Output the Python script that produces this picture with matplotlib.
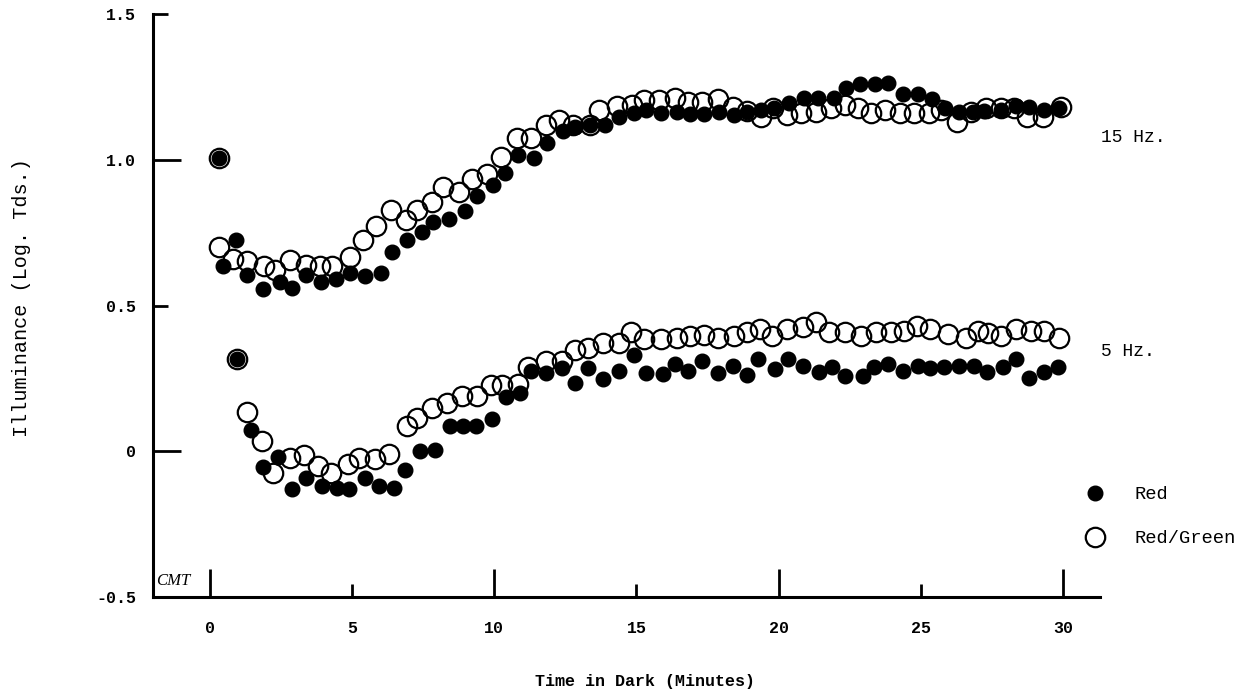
import matplotlib
matplotlib.use("Agg")
import matplotlib.pyplot as plt
from matplotlib.ticker import FixedLocator, FixedFormatter

# ---------------- data ----------------
# 15 Hz, Red (filled)
t15_red = [0.32, 0.46, 0.92, 1.3, 1.87, 2.46, 2.89, 3.38, 3.9, 4.44, 4.93, 5.46, 6.0, 6.4,
           6.94, 7.46, 7.85, 8.42, 8.98, 9.4, 9.96, 10.39, 10.85, 11.4, 11.87, 12.43, 12.85,
           13.38, 13.9, 14.37, 14.9, 15.35, 15.88, 16.44, 16.87, 17.39, 17.92, 18.42, 18.9,
           19.37, 19.82, 20.35, 20.88, 21.37, 21.94, 22.36, 22.85, 23.38, 23.84, 24.37, 24.9,
           25.39, 25.85, 26.34, 26.83, 27.22, 27.82, 28.35, 28.8, 29.33, 29.86]
v15_red = [1.007, 0.634, 0.723, 0.606, 0.555, 0.58, 0.56, 0.603, 0.582, 0.592, 0.61, 0.60, 0.613, 0.683,
           0.723, 0.752, 0.786, 0.798, 0.825, 0.877, 0.914, 0.955, 1.017, 1.007, 1.058, 1.099, 1.113,
           1.12, 1.12, 1.147, 1.161, 1.171, 1.161, 1.164, 1.158, 1.158, 1.164, 1.152, 1.164,
           1.171, 1.178, 1.195, 1.212, 1.212, 1.212, 1.247, 1.26, 1.26, 1.264, 1.226, 1.226,
           1.209, 1.178, 1.164, 1.164, 1.168, 1.171, 1.185, 1.18, 1.171, 1.178]

# 15 Hz, Red/Green (open)
t15_rg = [0.32, 0.32, 0.81, 1.3, 1.9, 2.29, 2.82, 3.38, 3.87, 4.3, 4.93, 5.39, 5.85, 6.37, 6.9,
          7.29, 7.82, 8.2, 8.77, 9.22, 9.75, 10.25, 10.8, 11.3, 11.83, 12.29, 12.78, 13.35, 13.7,
          14.3, 14.86, 15.28, 15.8, 16.34, 16.8, 17.32, 17.87, 18.4, 18.87, 19.37, 19.79, 20.28,
          20.77, 21.3, 21.83, 22.32, 22.78, 23.24, 23.73, 24.26, 24.75, 25.28, 25.7, 26.27,
          26.76, 27.29, 27.82, 28.27, 28.73, 29.3, 29.93]
v15_rg = [1.007, 0.702, 0.66, 0.654, 0.634, 0.623, 0.657, 0.64, 0.637, 0.637, 0.668, 0.726, 0.774, 0.829, 0.795,
          0.829, 0.855, 0.908, 0.89, 0.935, 0.952, 1.01, 1.075, 1.075, 1.12, 1.137, 1.12, 1.12, 1.171,
          1.185, 1.188, 1.205, 1.205, 1.212, 1.199, 1.199, 1.209, 1.18, 1.168, 1.147, 1.178, 1.154,
          1.161, 1.164, 1.178, 1.188, 1.178, 1.161, 1.171, 1.161, 1.161, 1.161, 1.171, 1.13,
          1.164, 1.178, 1.178, 1.178, 1.147, 1.147, 1.18]

# 5 Hz, Red (filled)
t5_red = [0.95, 1.44, 1.87, 2.39, 2.89, 3.38, 3.94, 4.47, 4.9, 5.46, 5.95, 6.48, 6.87, 7.4, 7.92,
          8.45, 8.9, 9.37, 9.93, 10.42, 10.92, 11.3, 11.83, 12.39, 12.85, 13.3, 13.84, 14.37, 14.9,
          15.32, 15.95, 16.37, 16.8, 17.32, 17.85, 18.38, 18.9, 19.26, 19.86, 20.32, 20.85, 21.41,
          21.87, 22.32, 22.96, 23.35, 23.84, 24.37, 24.9, 25.32, 25.81, 26.34, 26.87, 27.32,
          27.89, 28.35, 28.8, 29.33, 29.82]
v5_red = [0.318, 0.072, -0.055, -0.021, -0.13, -0.092, -0.12, -0.127, -0.13, -0.092, -0.12, -0.127, -0.065, 0.0, 0.005,
          0.086, 0.086, 0.086, 0.11, 0.185, 0.199, 0.274, 0.267, 0.284, 0.233, 0.284, 0.247, 0.274, 0.329,
          0.27, 0.264, 0.298, 0.277, 0.308, 0.267, 0.294, 0.26, 0.315, 0.281, 0.318, 0.291, 0.271,
          0.288, 0.257, 0.257, 0.288, 0.298, 0.274, 0.291, 0.284, 0.288, 0.291, 0.291, 0.271,
          0.288, 0.318, 0.253, 0.271, 0.288]

# 5 Hz, Red/Green (open)
t5_rg = [0.95, 1.3, 1.85, 2.22, 2.82, 3.31, 3.8, 4.26, 4.86, 5.25, 5.81, 6.3, 6.92, 7.29, 7.8,
         8.35, 8.87, 9.4, 9.89, 10.28, 10.85, 11.2, 11.83, 12.39, 12.85, 13.3, 13.84, 14.37, 14.82,
         15.25, 15.88, 16.44, 16.9, 17.36, 17.87, 18.42, 18.88, 19.33, 19.75, 20.28, 20.85, 21.3,
         21.76, 22.32, 22.89, 23.42, 23.94, 24.4, 24.86, 25.32, 25.95, 26.58, 27.0, 27.36,
         27.82, 28.35, 28.87, 29.33, 29.86]
v5_rg = [0.318, 0.134, 0.036, -0.075, -0.024, -0.014, -0.051, -0.075, -0.045, -0.024, -0.027, -0.01, 0.086, 0.115, 0.15,
         0.165, 0.188, 0.188, 0.226, 0.226, 0.229, 0.288, 0.308, 0.308, 0.349, 0.353, 0.373, 0.373, 0.408,
         0.384, 0.384, 0.387, 0.394, 0.4, 0.387, 0.394, 0.408, 0.418, 0.397, 0.418, 0.425, 0.445,
         0.408, 0.408, 0.397, 0.408, 0.408, 0.414, 0.428, 0.421, 0.401, 0.39, 0.411, 0.404,
         0.397, 0.421, 0.411, 0.411, 0.39]

x_ticks_major = [0, 10, 20, 30]
x_ticks_minor = [5, 15, 25]
y_ticks_major = [0.0, 1.0]
y_ticks_minor = [-0.5, 0.5, 1.5]
y_major_labels = ["0", "1.0"]
y_minor_labels = ["-0.5", "0.5", "1.5"]
series_labels = ["Red", "Red/Green"]
curve_labels = ["15 Hz.", "5 Hz."]
curve_label_y = [1.075, 0.342]

# ---------------- figure ----------------
W, H = 1250, 696
fig = plt.figure(figsize=(W / 100, H / 100), dpi=100)
ax = fig.add_axes([153 / W, 1 - 597 / H, (1100 - 153) / W, (597 - 14) / H])

mono = "Liberation Mono"

filled_kw = dict(marker="o", linestyle="none", color="black", markersize=10.5)
open_kw = dict(marker="o", linestyle="none", markerfacecolor="none",
               markeredgecolor="black", markersize=14, markeredgewidth=1.6)

h_rg, = ax.plot(t15_rg, v15_rg, label=series_labels[1], **open_kw)
ax.plot(t5_rg, v5_rg, **open_kw)
h_red, = ax.plot(t15_red, v15_red, label=series_labels[0], **filled_kw)
ax.plot(t5_red, v5_red, **filled_kw)

ax.set_xlim(-2.0, 31.3)
ax.set_ylim(-0.5, 1.5)

for s in ["top", "right"]:
    ax.spines[s].set_visible(False)
for s in ["left", "bottom"]:
    ax.spines[s].set_linewidth(2.2)

ax.xaxis.set_major_locator(FixedLocator(x_ticks_major))
ax.xaxis.set_minor_locator(FixedLocator(x_ticks_minor))
ax.xaxis.set_major_formatter(FixedFormatter([str(v) for v in x_ticks_major]))
ax.xaxis.set_minor_formatter(FixedFormatter([str(v) for v in x_ticks_minor]))
ax.yaxis.set_major_locator(FixedLocator(y_ticks_major))
ax.yaxis.set_minor_locator(FixedLocator(y_ticks_minor))
ax.yaxis.set_major_formatter(FixedFormatter(y_major_labels))
ax.yaxis.set_minor_formatter(FixedFormatter(y_minor_labels))

ax.tick_params(axis="x", which="major", direction="in", length=20, width=2.0, pad=17)
ax.tick_params(axis="x", which="minor", direction="in", length=9.5, width=2.0, pad=17)
ax.tick_params(axis="y", which="major", direction="in", length=20, width=2.0, pad=12)
ax.tick_params(axis="y", which="minor", direction="in", length=11, width=2.0, pad=12)
for lab in ax.get_xticklabels(which="both") + ax.get_yticklabels(which="both"):
    lab.set_fontfamily(mono)
    lab.set_fontweight("bold")
    lab.set_fontsize(12)

ax.set_xlabel("Time in Dark (Minutes)", fontfamily=mono, fontsize=12, fontweight="bold")
ax.xaxis.set_label_coords((645 - 153) / (1100 - 153), -(674 - 597) / (597 - 14))
ax.set_ylabel("Illuminance (Log. Tds.)", fontfamily=mono, fontsize=14.5)
ax.yaxis.set_label_coords(-(153 - 31) / (1100 - 153), (597 - 298) / (597 - 14))

for lab, yy in zip(curve_labels, curve_label_y):
    ax.text(31.35, yy, lab, fontfamily=mono, fontsize=13, va="center", ha="left", clip_on=False)

ax.text(0.003, 0.014, "CMT", transform=ax.transAxes, fontfamily="Liberation Serif",
        fontstyle="italic", fontsize=12, ha="left", va="bottom")

fs_leg = 13.5
leg = fig.legend(handles=[h_red, h_rg], labels=series_labels, loc="upper left",
                 bbox_to_anchor=(1086 / W, 1 - 486 / H), frameon=False,
                 borderpad=0, borderaxespad=0,
                 handletextpad=1.6, labelspacing=1.45, handlelength=1.0,
                 prop={"family": mono, "size": fs_leg})

fig.savefig("out.png", dpi=100)
